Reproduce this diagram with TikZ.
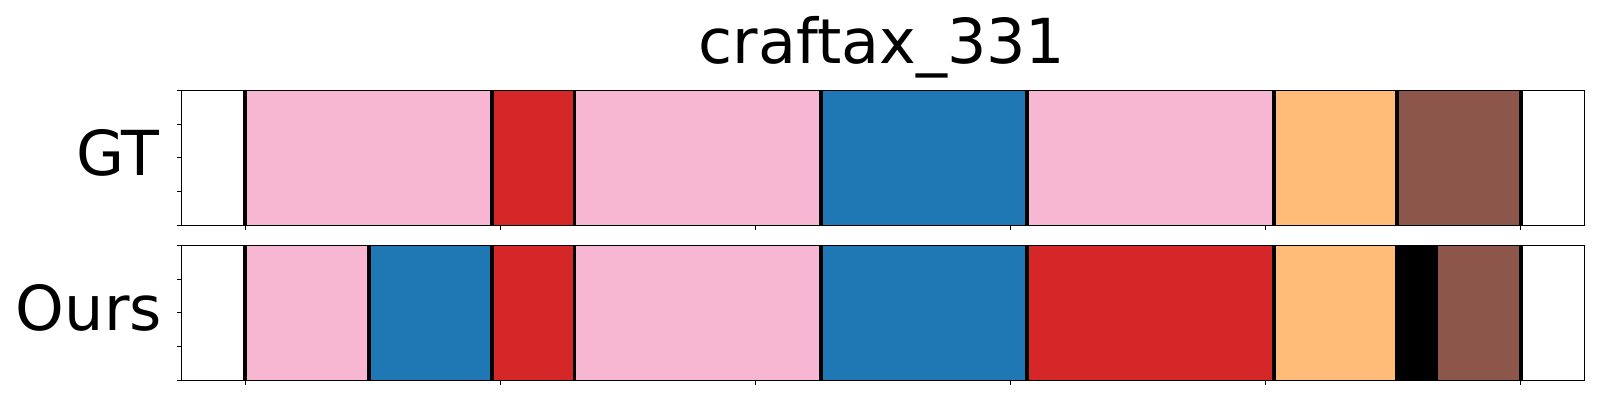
\documentclass[tikz,border=0pt]{standalone}
\usepackage{fontspec}
\setmainfont{DejaVu Sans}
\definecolor{tpink}{HTML}{F7B6D2}
\definecolor{tred}{HTML}{D62728}
\definecolor{tblue}{HTML}{1F77B4}
\definecolor{torange}{HTML}{FFBB78}
\definecolor{tbrown}{HTML}{8C564B}
\tikzset{
  frame/.style={draw=black,line width=1.1pt},
  sep/.style={draw=black,line width=3.8pt},
  tickmark/.style={draw=black,line width=1pt},
  bigtitle/.style={font=\fontsize{62}{68}\selectfont,anchor=base,inner sep=0pt},
  rowlabel/.style={font=\fontsize{62}{68}\selectfont,anchor=base east,inner sep=0pt},
}
\newcommand{\PX}[1]{245.3+41.142*(#1)}
\begin{document}
\begin{tikzpicture}[x=1pt,y=-1pt]
\useasboundingbox[fill=white] (0,0) rectangle (1600,400);
% title and labels
\node[bigtitle] (title) at (882,63) {craftax\_331};
\node[rowlabel] (gt) at (160,175) {GT};
\node[rowlabel] (ours) at (162,330) {Ours};
% ---------- GT row ----------
\def\ta{90.3}\def\tb{225.3}
\foreach \a/\b/\c in {0/6/tpink,6/8/tred,8/14/tpink,14/19/tblue,19/25/tpink,25/28/torange,28/31/tbrown}
  \fill[\c] ({\PX{\a}},\ta) rectangle ({\PX{\b}},\tb);
\foreach \a in {0,6,8,14,19,25,28,31}
  \draw[sep] ({\PX{\a}},\ta) -- ({\PX{\a}},\tb);
\draw[frame] (181.5,\ta) rectangle (1584.5,\tb);
\foreach \k in {0,1,2,3,4}
  \draw[tickmark] (181.5,{\ta+\k*33.75}) -- (177,{\ta+\k*33.75});
\foreach \k in {0,1,2,3,4,5}
  \draw[tickmark] ({\PX{6.2*\k}},\tb) -- ({\PX{6.2*\k}},{\tb+4.5});
% ---------- Ours row ----------
\def\ba{245.3}\def\bb{380.3}
\foreach \a/\b/\c in {0/3/tpink,3/6/tblue,6/8/tred,8/14/tpink,14/19/tblue,19/25/tred,25/28/torange,28/29/black,29/31/tbrown}
  \fill[\c] ({\PX{\a}},\ba) rectangle ({\PX{\b}},\bb);
\foreach \a in {0,3,6,8,14,19,25,28,31}
  \draw[sep] ({\PX{\a}},\ba) -- ({\PX{\a}},\bb);
\draw[frame] (181.5,\ba) rectangle (1584.5,\bb);
\foreach \k in {0,1,2,3,4}
  \draw[tickmark] (181.5,{\ba+\k*33.75}) -- (177,{\ba+\k*33.75});
\foreach \k in {0,1,2,3,4,5}
  \draw[tickmark] ({\PX{6.2*\k}},\bb) -- ({\PX{6.2*\k}},{\bb+4.5});
\end{tikzpicture}
\end{document}
